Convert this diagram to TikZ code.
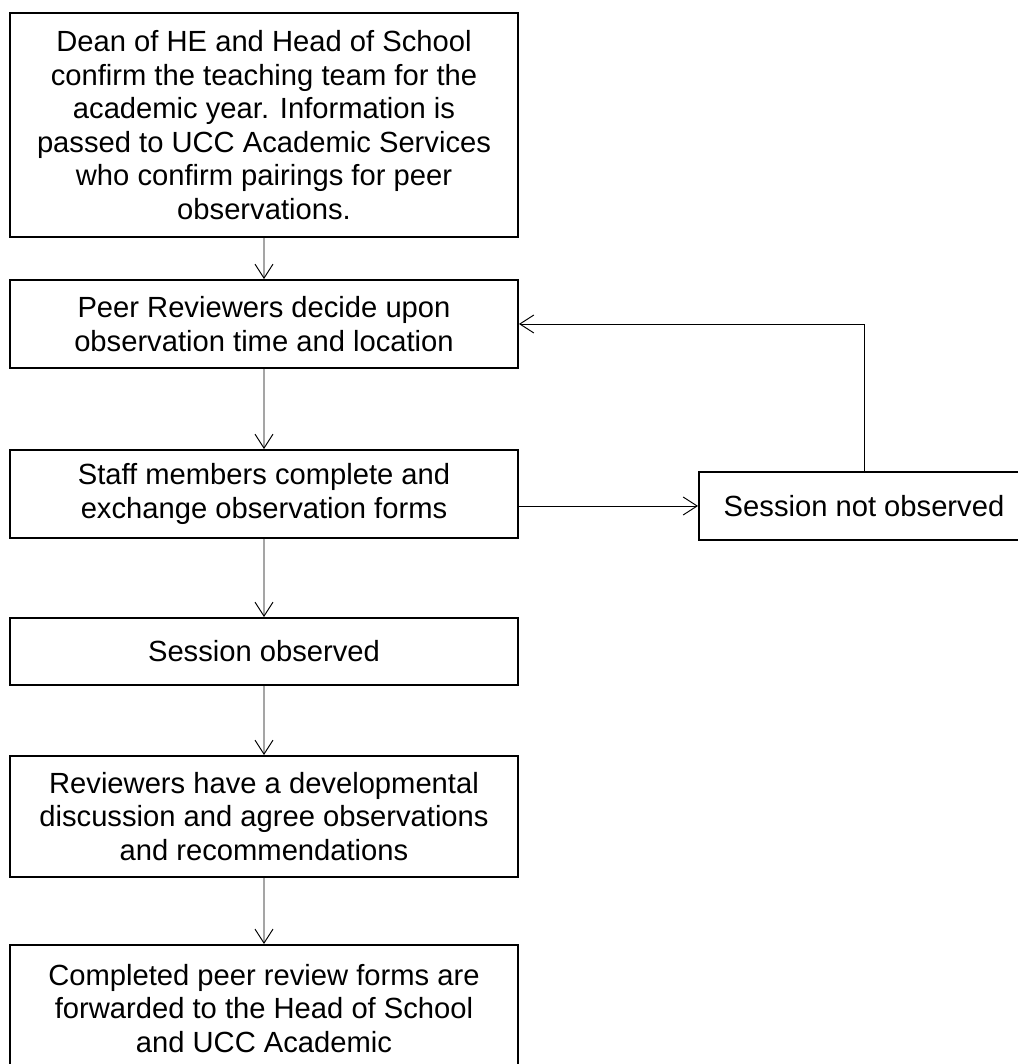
\documentclass[tikz,border=0pt]{standalone}
\usepackage{fontspec}
\setmainfont{Liberation Sans}
\usepackage{tikz}
\usetikzlibrary{arrows.meta}

\begin{document}
\begin{tikzpicture}[scale=0.2]
\tikzstyle{every node}+=[inner sep=0pt, font=\fontsize{16.6}{19.1}\selectfont]
\tikzstyle{box}=[draw=black, line width=1.1pt, minimum width=10.16cm, align=center]
\tikzstyle{flow}=[draw=black, line width=0.55pt, -{Straight Barb[length=2.8mm,width=3.6mm,line width=0.55pt]}]
\useasboundingbox (0,0) rectangle (101.7,-106.4);
\node [box, minimum height=4.48cm] (dean) at (26.4,-12.5) {Dean of HE and Head of School\\confirm the teaching team for the\\academic year. Information is\\passed to UCC Academic Services\\who confirm pairings for peer\\observations.};
\node [box, minimum height=1.76cm] (peer) at (26.4,-32.4) {Peer Reviewers decide upon\\observation time and location};
\node [box, minimum height=1.76cm] (staff) at (26.4,-49.4) {Staff members complete and\\exchange observation forms};
\node [box, minimum height=1.34cm] (observed) at (26.4,-65.15) {Session observed};
\node [box, minimum height=2.42cm] (discuss) at (26.4,-81.65) {Reviewers have a developmental\\discussion and agree observations\\and recommendations};
\node [box, anchor=north, inner ysep=0.38cm, text depth=1.6cm] (forms) at (26.4,-94.4) {Completed peer review forms are\\forwarded to the Head of School\\and UCC Academic};
\node [box, minimum width=6.6cm, minimum height=1.36cm] (sno) at (86.4,-50.6) {Session not observed};
\draw [flow] (dean) -- (peer);
\draw [flow] (peer) -- (staff);
\draw [flow] (staff) -- (observed);
\draw [flow] (observed) -- (discuss);
\draw [flow] (discuss) -- (forms);
\draw [flow] (staff.east |- sno.west) -- (sno.west);
\draw [flow] (sno.north) |- (peer.east);
\end{tikzpicture}
\end{document}
